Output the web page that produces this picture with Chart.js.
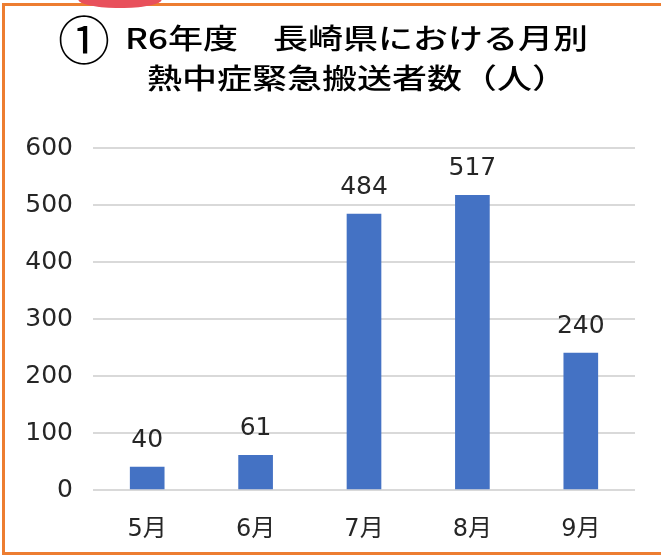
<!DOCTYPE html>
<html><head><meta charset="utf-8">
<script src="https://cdn.jsdelivr.net/npm/chart.js@4"></script>
<style>
html,body{margin:0;padding:0;background:#fff;overflow:hidden;}
#wrap{position:relative;width:661px;height:555px;overflow:hidden;}
canvas{position:absolute;left:0;top:0;}
#frame{position:absolute;left:2px;top:3px;width:720px;height:552px;box-sizing:border-box;border:3px solid #ED7D31;pointer-events:none;}
#ribbon{position:absolute;left:78px;top:-12px;width:84px;height:20px;background:#E8505B;border-radius:0 0 45% 45%;}
</style></head>
<body>
<div id="wrap"><canvas id="c" width="661" height="555"></canvas><div id="frame"></div><div id="ribbon"></div></div>
<script>
const titleMark = '①';
const titleLine1 = 'R6年度　長崎県における月別';
const titleLine2 = '熱中症緊急搬送者数（人）';
const months = ['5月', '6月', '7月', '8月', '9月'];
const transported = [40, 61, 484, 517, 240];
const yTicks = [0, 100, 200, 300, 400, 500, 600];

const textColor = '#262626';

const titlePlugin = {
  id: 'stretchedTitle',
  afterDraw(chart) {
    const ctx = chart.ctx;
    ctx.save();
    ctx.fillStyle = '#000';
    ctx.textBaseline = 'middle';
    ctx.textAlign = 'center';
    ctx.font = '52px "Noto Sans CJK JP"';
    ctx.fillText(titleMark, 84, 40);
    const sx = 1.25;
    ctx.scale(sx, 1);
    ctx.textAlign = 'left';
    ctx.font = '500 28px "Noto Sans CJK JP"';
    ctx.fillText(titleLine1, 125 / sx, 38);
    ctx.fillText(titleLine2, 147 / sx, 78);
    ctx.restore();
  }
};

const labelPlugin = {
  id: 'barValues',
  afterDatasetsDraw(chart) {
    const ctx = chart.ctx;
    const meta = chart.getDatasetMeta(0);
    ctx.save();
    ctx.font = '25px "DejaVu Sans"';
    ctx.fillStyle = textColor;
    ctx.textAlign = 'center';
    ctx.textBaseline = 'middle';
    meta.data.forEach((bar, i) => {
      ctx.fillText(String(transported[i]), bar.x, bar.y - 27);
    });
    ctx.restore();
  }
};

new Chart(document.getElementById('c'), {
  type: 'bar',
  data: {
    labels: months,
    datasets: [{
      data: transported,
      backgroundColor: '#4472C4',
      borderWidth: 0,
      barThickness: 34
    }]
  },
  options: {
    responsive: false,
    devicePixelRatio: 1,
    animation: false,
    layout: { padding: { top: 148, right: 26, left: 0, bottom: 0 } },
    plugins: { legend: { display: false }, title: { display: false }, tooltip: { enabled: false } },
    scales: {
      x: {
        grid: { display: false },
        border: { display: false },
        ticks: { padding: 17, color: textColor, font: { family: '"DejaVu Sans", "Noto Sans CJK JP"', size: 24 } },
        afterFit(s) { s.height = 65; }
      },
      y: {
        min: 0, max: 600,
        grid: { color: '#D9D9D9', lineWidth: 2, drawTicks: false },
        border: { display: false },
        ticks: { padding: 20, color: textColor, font: { family: '"DejaVu Sans"', size: 25 } },
        afterBuildTicks(s) { s.ticks = yTicks.map(v => ({ value: v })); },
        afterFit(s) { s.width = 93; }
      }
    }
  },
  plugins: [titlePlugin, labelPlugin]
});
</script>
</body></html>
